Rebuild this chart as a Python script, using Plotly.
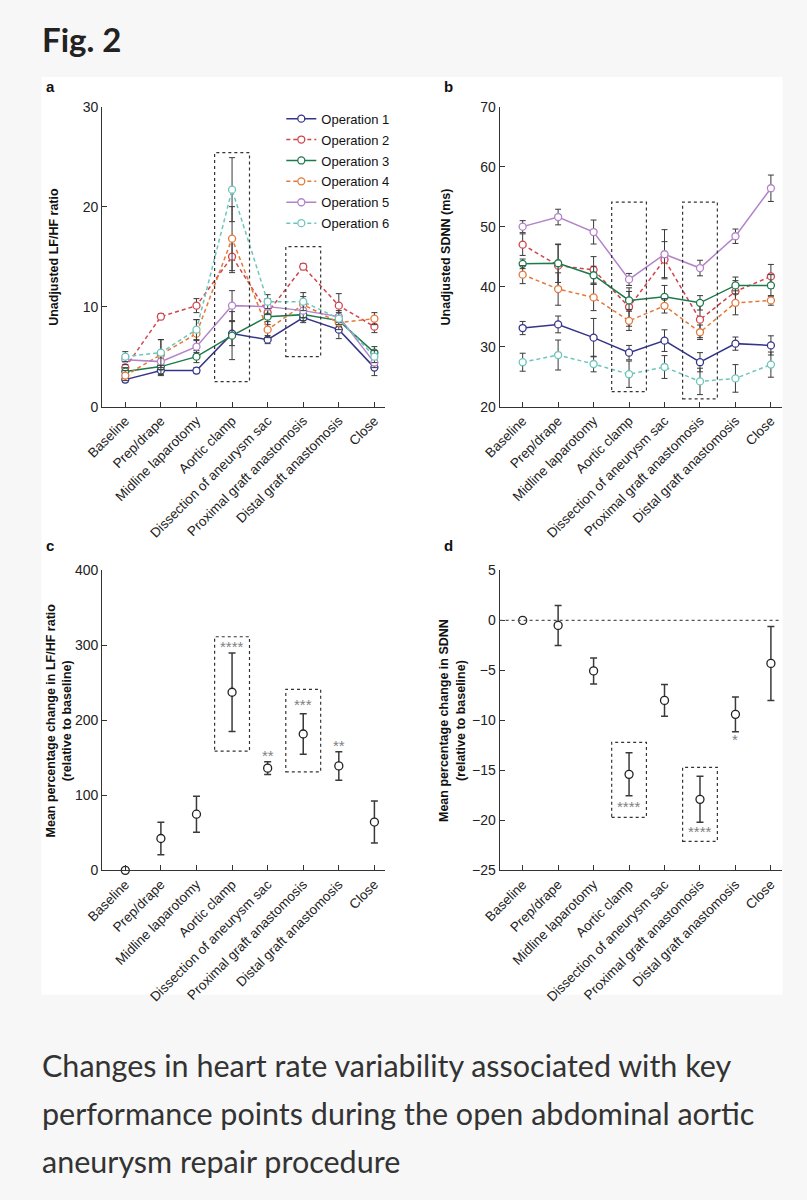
import plotly.graph_objects as go

# ---- data ----
stages = ["Baseline", "Prep/drape", "Midline laparotomy", "Aortic clamp",
          "Dissection of aneurysm sac", "Proximal graft anastomosis",
          "Distal graft anastomosis", "Close"]
ops = ["Operation 1", "Operation 2", "Operation 3", "Operation 4", "Operation 5", "Operation 6"]

# panel a: unadjusted LF/HF ratio (mean, error)
lfhf = [
    [2.7, 3.6, 3.6, 7.3, 6.7, 8.9, 7.7, 3.9],
    [3.9, 9.0, 10.1, 15.0, 9.4, 14.0, 10.1, 8.0],
    [3.5, 4.0, 5.0, 7.1, 9.0, 9.2, 8.6, 5.4],
    [3.1, 5.2, 7.3, 16.8, 7.7, 10.2, 8.4, 8.8],
    [4.7, 4.5, 6.0, 10.1, 10.0, 9.6, 9.0, 4.4],
    [5.0, 5.4, 7.7, 21.7, 10.5, 10.5, 8.8, 5.0],
]
lfhf_err = [
    [0.3, 0.5, 0.3, 1.2, 0.4, 0.5, 0.9, 0.8],
    [0.6, 0.3, 0.7, 1.6, 0.6, 0.3, 1.2, 0.6],
    [0.4, 0.8, 0.6, 2.4, 0.8, 0.6, 0.6, 0.6],
    [0.5, 1.5, 1.4, 3.2, 0.8, 0.8, 0.7, 0.6],
    [0.5, 0.6, 0.6, 1.5, 0.8, 0.7, 0.6, 0.5],
    [0.5, 1.3, 1.0, 3.2, 0.7, 0.9, 0.6, 0.6],
]

# panel b: unadjusted SDNN (ms)
sdnn = [
    [33.1, 33.7, 31.5, 29.0, 31.0, 27.4, 30.5, 30.2],
    [47.0, 43.5, 42.8, 36.6, 44.5, 34.5, 39.2, 41.7],
    [43.8, 43.9, 41.9, 37.7, 38.3, 37.3, 40.2, 40.2],
    [42.0, 39.6, 38.2, 34.3, 36.8, 32.4, 37.3, 37.7],
    [50.0, 51.6, 49.1, 41.2, 45.4, 43.1, 48.4, 56.4],
    [27.4, 28.6, 27.1, 25.4, 26.6, 24.2, 24.7, 27.0],
]
sdnn_err = [
    [1.1, 1.4, 3.2, 1.2, 1.8, 1.6, 1.1, 1.6],
    [1.8, 3.5, 2.2, 3.2, 3.0, 3.0, 1.8, 2.0],
    [0.8, 3.2, 1.5, 1.5, 1.9, 1.2, 1.4, 1.8],
    [1.5, 2.7, 2.2, 1.6, 1.2, 1.2, 2.0, 0.8],
    [1.0, 1.3, 2.0, 1.0, 4.1, 1.3, 1.2, 2.2],
    [1.5, 2.5, 1.3, 2.2, 1.9, 2.2, 2.3, 2.1],
]

# panel c / d: mean percentage change relative to baseline
pct_lfhf = [0, 42.5, 74.9, 237.5, 136.3, 181.8, 139.3, 64.4]
pct_lfhf_err = [0, 21.7, 24.0, 52.5, 8.5, 27.0, 19.0, 28.0]
pct_sdnn = [0, -0.5, -5.05, -15.4, -8.0, -17.9, -9.4, -4.3]
pct_sdnn_err = [0, 2.0, 1.3, 2.15, 1.6, 2.3, 1.75, 3.7]

stars_c = {3: ("****", 299), 4: ("**", 153), 5: ("***", 221), 6: ("**", 167)}
stars_d = {3: ("****", -18.6), 5: ("****", -21.1), 6: ("*", -11.9)}

colors = ["#34348a", "#d2444c", "#1d7a4c", "#e3793a", "#b383c9", "#6cc6bb"]
dashes = ["solid", "4px,3px", "solid", "4px,3px", "solid", "4px,3px"]

FONT = "Liberation Sans"
W, H = 807, 1200
xs = list(range(len(stages)))


def px(x):
    return x / W


def py(y):
    return 1 - y / H


fig = go.Figure()

for i, name in enumerate(ops):
    for vals, errs, ax, show in [(lfhf, lfhf_err, "", True), (sdnn, sdnn_err, "2", False)]:
        fig.add_trace(go.Scatter(
            x=xs, y=vals[i], xaxis="x" + ax, yaxis="y" + ax,
            mode="lines+markers", name=name, showlegend=show, legendgroup=name,
            line=dict(color=colors[i], width=1.5, dash=dashes[i]),
            marker=dict(size=7, color="white", line=dict(color=colors[i], width=1.3)),
            error_y=dict(type="data", array=errs[i], color="#3a3a3a", thickness=1, width=3),
            cliponaxis=False,
        ))

for vals, errs, ax in [(pct_lfhf, pct_lfhf_err, "3"), (pct_sdnn, pct_sdnn_err, "4")]:
    fig.add_trace(go.Scatter(
        x=xs, y=vals, xaxis="x" + ax, yaxis="y" + ax, mode="markers", showlegend=False,
        marker=dict(size=8, color="white", line=dict(color="#222", width=1.3)),
        error_y=dict(type="data", array=errs, color="#3a3a3a", thickness=1.5, width=3.5),
        cliponaxis=False,
    ))

# dashed highlight boxes (x centre, y0, y1)
boxes = {
    "": [(3, 2.5, 25.4), (5, 5.0, 16.0)],
    "2": [(3, 22.5, 54.1), (5, 21.3, 54.1)],
    "3": [(3, 159, 311.5), (5, 131.4, 241.4)],
    "4": [(3, -19.7, -12.2), (5, -22.1, -14.7)],
}
shapes = [dict(type="rect", xref="paper", yref="paper", x0=px(25), x1=px(782),
               y0=py(1000), y1=py(70), fillcolor="white", line=dict(width=0), layer="below")]
for ax, bl in boxes.items():
    for xc, y0, y1 in bl:
        shapes.append(dict(type="rect", xref="x" + ax, yref="y" + ax, x0=xc - 0.49, x1=xc + 0.49,
                           y0=y0, y1=y1, line=dict(color="#333", width=1.2, dash="3px,3px")))
shapes.append(dict(type="line", xref="x4 domain", yref="y4", x0=0, x1=1, y0=0, y1=0,
                   line=dict(color="#555", width=1.3, dash="dot")))

annotations = []
for xi, (txt, yv) in stars_c.items():
    annotations.append(dict(x=xi, y=yv, xref="x3", yref="y3", text=txt, showarrow=False,
                            font=dict(family=FONT, size=15, color="#808080")))
for xi, (txt, yv) in stars_d.items():
    annotations.append(dict(x=xi, y=yv, xref="x4", yref="y4", text=txt, showarrow=False,
                            font=dict(family=FONT, size=15, color="#808080")))

for lab, x, y in [("a", 28, 80), ("b", 434, 80), ("c", 28, 545), ("d", 434, 545)]:
    annotations.append(dict(x=px(x), y=py(y), xref="paper", yref="paper", text="<b>%s</b>" % lab,
                            showarrow=False, xanchor="left", yanchor="middle",
                            font=dict(family=FONT, size=15, color="#111")))

ytitles = [
    ("Unadjusted LF/HF ratio", 37, 252),
    ("Unadjusted SDNN (ms)", 438, 252),
    ("Mean percentage change in LF/HF ratio<br>(relative to baseline)", 43, 722),
    ("Mean percentage change in SDNN<br>(relative to baseline)", 445, 722),
]
for txt, x, y in ytitles:
    annotations.append(dict(x=px(x), y=py(y), xref="paper", yref="paper", text="<b>%s</b>" % txt,
                            showarrow=False, textangle=-90, xanchor="center", yanchor="middle",
                            font=dict(family=FONT, size=12.5, color="#111")))

annotations.append(dict(x=px(24), y=py(31), xref="paper", yref="paper", text="<b>Fig. 2</b>",
                        showarrow=False, xanchor="left", yanchor="middle",
                        font=dict(family="Lato", size=33, color="#222")))
caption = ["Changes in heart rate variability associated with key",
           "performance points during the open abdominal aortic",
           "aneurysm repair procedure"]
for k, line in enumerate(caption):
    annotations.append(dict(x=px(24), y=py(1071 + 49 * k), xref="paper", yref="paper", text=line,
                            showarrow=False, xanchor="left", yanchor="middle",
                            font=dict(family="Lato", size=30.5, color="#333")))

xcommon = dict(tickmode="array", tickvals=xs, ticktext=stages, tickangle=-45, range=[-0.65, 7.3],
               ticks="inside", ticklen=5, tickcolor="#333", showline=True, linecolor="#333",
               linewidth=1, showgrid=False, zeroline=False,
               tickfont=dict(family=FONT, size=13.5, color="#222"))
ycommon = dict(ticks="inside", ticklen=5, tickcolor="#333", showline=True, linecolor="#333",
               linewidth=1, showgrid=False, zeroline=False,
               tickfont=dict(family=FONT, size=14, color="#222"))

dom_left = [px(87), px(376)]
dom_right = [px(493), px(781)]
dom_top = [py(404), py(100)]
dom_bot = [py(874), py(570)]

fig.update_layout(
    width=W, height=H, margin=dict(l=0, r=0, t=0, b=0),
    paper_bgcolor="#f7f7f7", plot_bgcolor="rgba(0,0,0,0)",
    xaxis=dict(xcommon, domain=dom_left, anchor="y"),
    yaxis=dict(ycommon, domain=dom_top, anchor="x", range=[0, 30], dtick=10),
    xaxis2=dict(xcommon, domain=dom_right, anchor="y2"),
    yaxis2=dict(ycommon, domain=dom_top, anchor="x2", range=[20, 70], dtick=10),
    xaxis3=dict(xcommon, domain=dom_left, anchor="y3"),
    yaxis3=dict(ycommon, domain=dom_bot, anchor="x3", range=[0, 400], dtick=100),
    xaxis4=dict(xcommon, domain=dom_right, anchor="y4"),
    yaxis4=dict(ycommon, domain=dom_bot, anchor="x4", range=[-25, 5], dtick=5),
    legend=dict(x=px(270), y=py(97), xanchor="left", yanchor="top", bgcolor="rgba(0,0,0,0)",
                font=dict(family=FONT, size=13, color="#111"), itemwidth=30, tracegroupgap=1),
    shapes=shapes, annotations=annotations,
)

# drop the default page margin so the figure sits at the window's corner
fig.write_html("out.html", config={"displayModeBar": False},
               post_script="document.body.style.margin='0';")
